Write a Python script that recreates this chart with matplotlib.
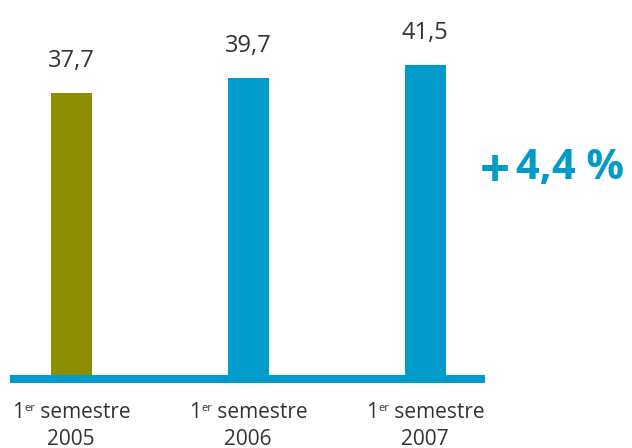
import matplotlib.pyplot as plt

plt.rcParams['font.family'] = ['Open Sans', 'DejaVu Sans']

# Données
years = ['2005', '2006', '2007']
values = [37.7, 39.7, 41.5]
value_labels = ['37,7', '39,7', '41,5']
growth_sign = '+'
growth_value = '4,4 %'

olive = '#8c8f00'
blue = '#009bcb'
text_color = '#333333'
bar_colors = [olive, blue, blue]

W, H = 632, 448
fig = plt.figure(figsize=(W / 100, H / 100), dpi=100)

# axe placé en pixels : ligne de base de x=10 à x=485, bas à y=379
left, right, bottom, top = 10, 485, 379, 0
ax = fig.add_axes([left / W, 1 - bottom / H, (right - left) / W, (bottom - top) / H])

px_per_unit = 7.47
spacing = 177.0
x = list(range(len(values)))
ax.bar(x, values, width=41 / spacing, color=bar_colors, zorder=1)

ax.set_xlim((left - 71) / spacing, (right - 71) / spacing)
ax.set_ylim(-4 / px_per_unit, (bottom - top - 4) / px_per_unit)

for s in ['top', 'left', 'right']:
    ax.spines[s].set_visible(False)
ax.spines['bottom'].set_color(blue)
ax.spines['bottom'].set_linewidth(5.8)
ax.spines['bottom'].set_capstyle('butt')
ax.spines['bottom'].set_zorder(2)
ax.set_xticks([])
ax.set_yticks([])

for xi, v, lab in zip(x, values, value_labels):
    ax.annotate(lab, (xi, v), xytext=(0, 19), textcoords='offset points',
                ha='center', va='baseline', fontsize=17, color=text_color)

# étiquettes « 1er semestre / année » composées à la main (exposant petit)
renderer = fig.canvas.get_renderer()
def width_px(s, size):
    t = fig.text(0, 0, s, fontsize=size)
    w = t.get_window_extent(renderer).width
    t.remove()
    return w

main_size, sup_size = 15, 8
w1 = width_px('1', main_size)
wsup = width_px('er', sup_size)
wsem = width_px(' semestre', main_size)
total = w1 + wsup + wsem
for xi, year in zip(x, years):
    cx = ax.transData.transform((xi, 0))[0]
    x0 = cx - total / 2
    y1 = 30
    fig.text(x0, y1, '1', fontsize=main_size, color=text_color,
             va='baseline', transform=None)
    fig.text(x0 + w1 + 1, y1 + 7, 'er', fontsize=sup_size, color=text_color,
             va='baseline', transform=None)
    fig.text(x0 + w1 + wsup, y1, ' semestre', fontsize=main_size, color=text_color,
             va='baseline', transform=None)
    fig.text(cx, 3, year, fontsize=main_size, color=text_color,
             ha='center', va='baseline', transform=None)

fig.text(495 / W, 1 - 173 / H, growth_sign, ha='center', va='center',
         fontsize=38, fontweight='bold', color=blue)
fig.text(516 / W, 1 - 168 / H, growth_value, ha='left', va='center',
         fontsize=30, fontweight='bold', color=blue)

fig.savefig('out.png', dpi=100)
